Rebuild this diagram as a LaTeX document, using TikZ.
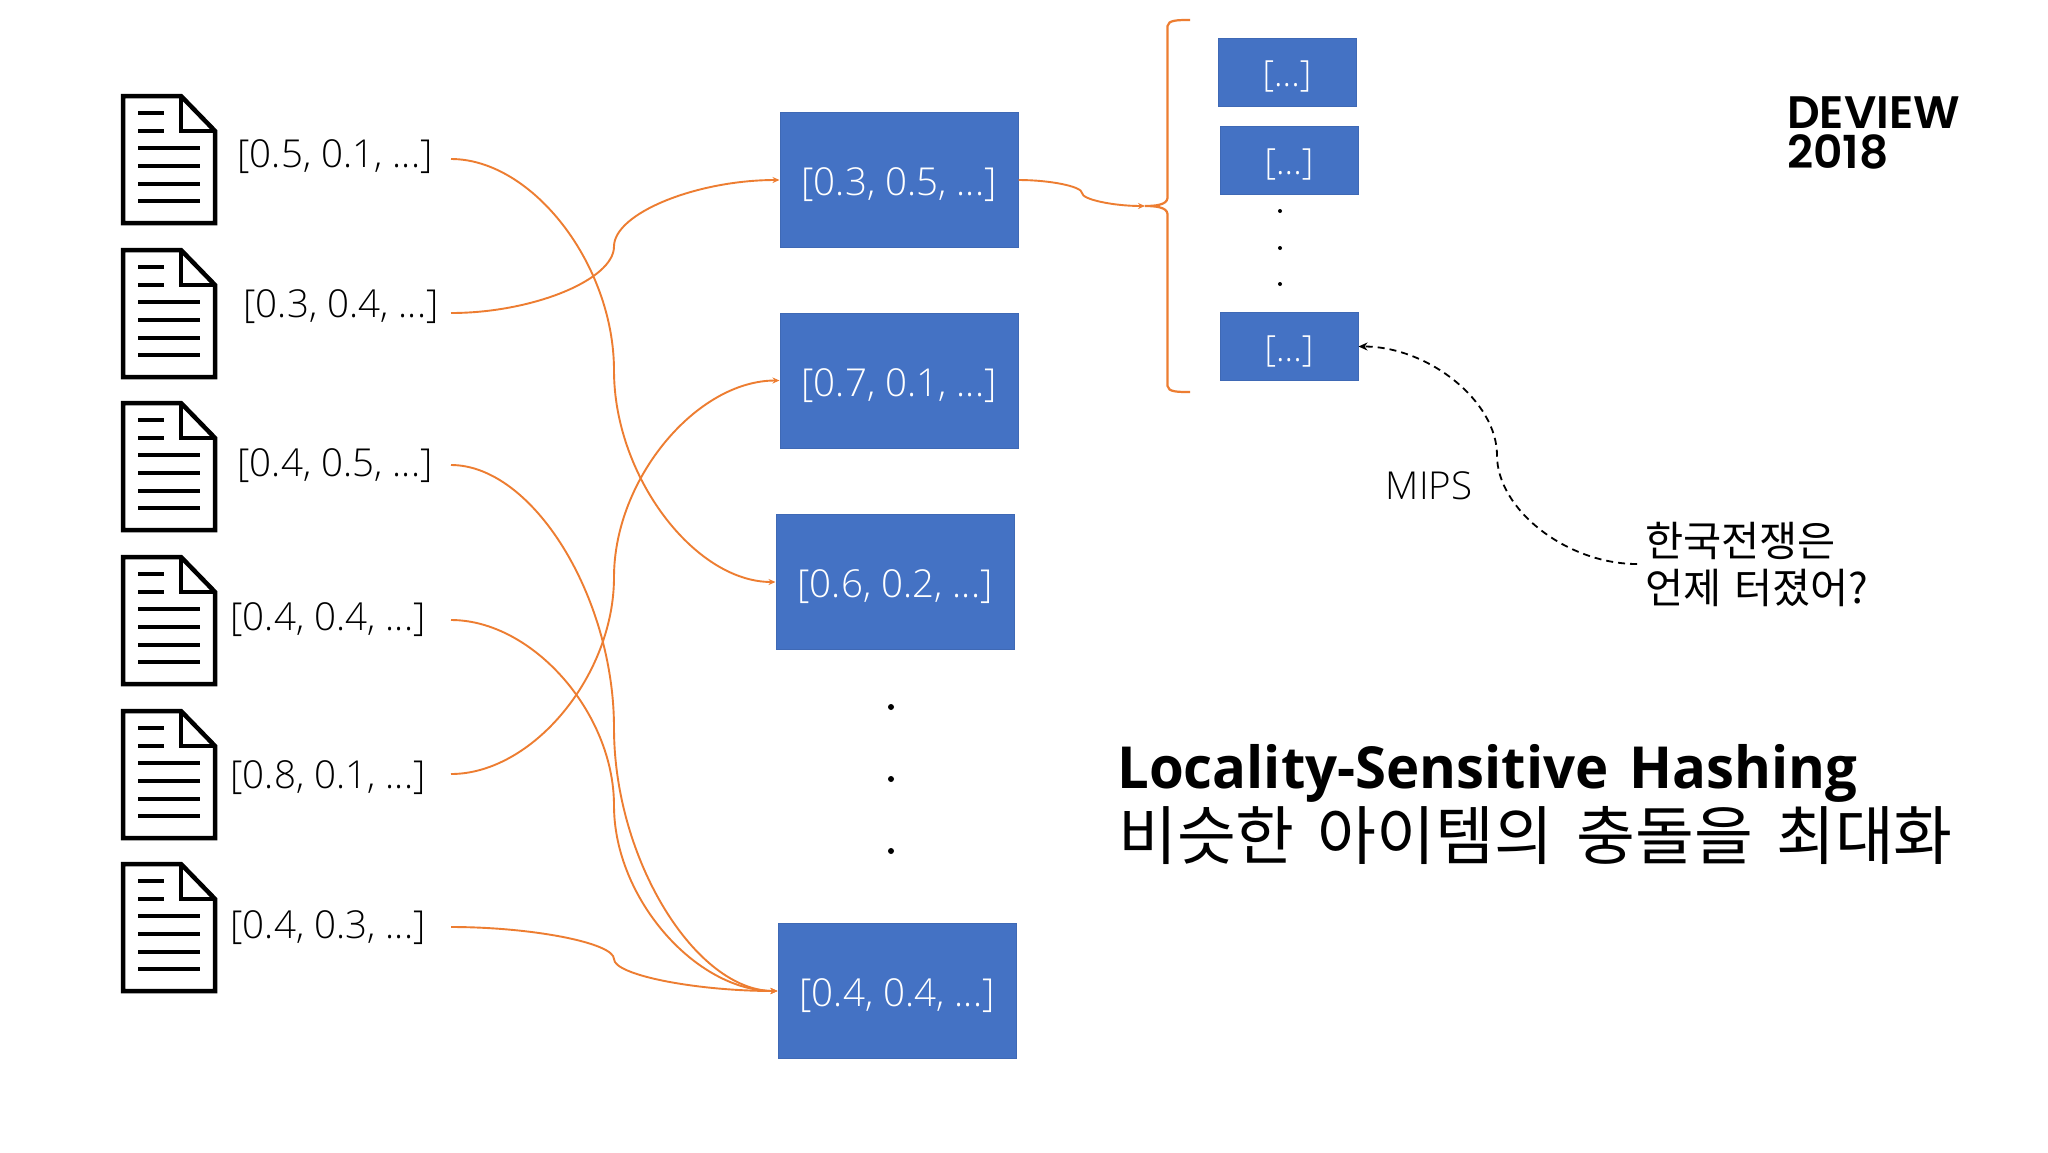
\documentclass[tikz,border=0pt]{standalone}
\usepackage{fontspec}
\setmainfont{Open Sans}
\newfontfamily\labfont{Open Sans Light}
\newfontfamily\titlefont[FakeStretch=0.97]{Open Sans Bold}
\newfontfamily\krfont{Noto Sans CJK KR}
\newfontfamily\logofont{Poppins SemiBold}
\usetikzlibrary{calc,arrows.meta}
\definecolor{boxblue}{HTML}{4472C4}
\definecolor{boxedge}{HTML}{3F69B5}
\definecolor{linkorange}{HTML}{ED7D31}
\newcommand{\curvecon}[4][conn]{%
  \draw[#1] let \p1=(#2), \p2=(#3), \n1={#4 pt} in
    (\p1) .. controls ({0.5*\x1+0.5*\n1},\y1) and (\n1,{0.75*\y1+0.25*\y2}) .. (\n1,{0.5*\y1+0.5*\y2})
    .. controls (\n1,{0.25*\y1+0.75*\y2}) and ({0.5*\n1+0.5*\x2},\y2) .. (\p2);}
\tikzset{
  conn/.style={draw=linkorange,line width=1.9pt,-{Stealth[length=7pt,width=6pt]}},
  dashconn/.style={draw=black,line width=1.8pt,dash pattern=on 7pt off 5pt,-{Stealth[length=9pt,width=8pt]}},
  lab/.style={inner sep=0pt,font=\labfont\fontsize{38.5}{45}\selectfont},
  vecbox/.style={fill=boxblue,draw=boxedge,line width=1pt,text=white,inner sep=0pt,text depth=0pt,font=\labfont\fontsize{38.5}{45}\selectfont},
  hashbox/.style={vecbox,minimum width=238pt,minimum height=135pt},
  smallbox/.style={vecbox,minimum width=138pt,minimum height=68pt,font=\labfont\fontsize{36}{40}\selectfont},
  docline/.style={draw=black,line width=4pt},
  docout/.style={draw=black,line width=4.5pt,miter limit=10},
  brc/.style={draw=linkorange,line width=2.2pt},
  kr/.style={inner sep=0pt,align=left,font=\krfont\fontsize{41.5}{47}\selectfont},
}
\begin{document}
\begin{tikzpicture}[x=1pt,y=-1pt]
\useasboundingbox (0,0) rectangle (2048,1152);
\fill[white] (0,0) rectangle (2048,1152);
% documents
\foreach \t in {94,248,401,555,709,862}{
  \begin{scope}[shift={(0,\t)}]
    \draw[docout] (123,2) -- (181,2) -- (215,37) -- (215,129) -- (123,129) -- cycle;
    \draw[docout] (181,2) -- (181,37) -- (215,37);
    \draw[docline] (138,19) -- (164,19);
    \draw[docline] (138,37) -- (164,37);
    \draw[docline] (138,54) -- (200,54);
    \draw[docline] (138,72) -- (200,72);
    \draw[docline] (138,90) -- (200,90);
    \draw[docline] (138,107) -- (200,107);
  \end{scope}
}
% document labels
\node[lab] (l1) at (335,157) {[0.5, 0.1, ...]};
\node[lab] (l2) at (341,307) {[0.3, 0.4, ...]};
\node[lab] (l3) at (335,466) {[0.4, 0.5, ...]};
\node[lab] (l4) at (328,620) {[0.4, 0.4, ...]};
\node[lab] (l5) at (328,778) {[0.8, 0.1, ...]};
\node[lab] (l6) at (328,928) {[0.4, 0.3, ...]};
\coordinate (s1) at (451,159);
\coordinate (s2) at (451,313);
\coordinate (s3) at (451,465);
\coordinate (s4) at (451,620);
\coordinate (s5) at (451,774);
\coordinate (s6) at (451,927);
% hash boxes
\node[hashbox] (b1) at (899,180) {\raisebox{-3.5pt}{[0.3, 0.5, ...]}};
\node[hashbox] (b2) at (899,380.5) {\raisebox{-3.5pt}{[0.7, 0.1, ...]}};
\node[hashbox] (b3) at (895,582) {\raisebox{-3.5pt}{[0.6, 0.2, ...]}};
\node[hashbox] (b4) at (897,991) {\raisebox{-3.5pt}{[0.4, 0.4, ...]}};
% big dots
\fill[black] (891,707) circle (3pt) (891,779) circle (3pt) (891,851) circle (3pt);
% connectors
\curvecon{s1}{b3.west}{614}
\curvecon{s2}{b1.west}{614}
\curvecon{s3}{b4.west}{614}
\curvecon{s4}{b4.west}{614}
\curvecon{s5}{b2.west}{614}
\curvecon{s6}{b4.west}{614}
% small boxes
\node[smallbox] (c1) at (1287,72) {\raisebox{-3.5pt}{[...]}};
\node[smallbox] (c2) at (1289,160) {\raisebox{-3.5pt}{[...]}};
\node[smallbox] (c3) at (1289,346.5) {\raisebox{-3.5pt}{[...]}};
\fill[black] (1280,211) circle (2pt) (1280,248) circle (2pt) (1280,284) circle (2pt);
% brace
\draw[brc] (1190,20) .. controls (1178,20) and (1168,20) .. (1167.5,26)
  -- (1167.5,198) .. controls (1167,205) and (1155,206) .. (1145,206)
  .. controls (1155,206) and (1167,207) .. (1167.5,214)
  -- (1167.5,386) .. controls (1168,392) and (1178,392) .. (1190,392);
\coordinate (bt) at (1145,206);
\curvecon{b1.east}{bt}{1082}
% query
\node[lab] (mips) at (1429,486) {MIPS};
\node[kr,anchor=north west] (q) at (1645,522) {한국전쟁은\\언제\hspace{0.3em}터졌어?};
\coordinate (qs) at (1637,564);
\curvecon[dashconn]{qs}{c3.east}{1497}
% title
\node[inner sep=0pt,anchor=base west,font=\titlefont\fontsize{58}{70}\selectfont] (t1) at (1117,788) {Locality-Sensitive\hspace{0.1em} Hashing};
\node[inner sep=0pt,anchor=base west,font=\krfont\fontsize{64}{70}\selectfont] (t2) at (1118,859) {비슷한\hspace{0.36em}아이템의\hspace{0.36em}충돌을\hspace{0.36em}최대화};
% logo
\node[inner sep=0pt,anchor=north west,align=left,font=\logofont\fontsize{45.5}{40.5}\selectfont] (d1) at (1787,96) {DEVIEW\\2018};
\end{tikzpicture}
\end{document}
